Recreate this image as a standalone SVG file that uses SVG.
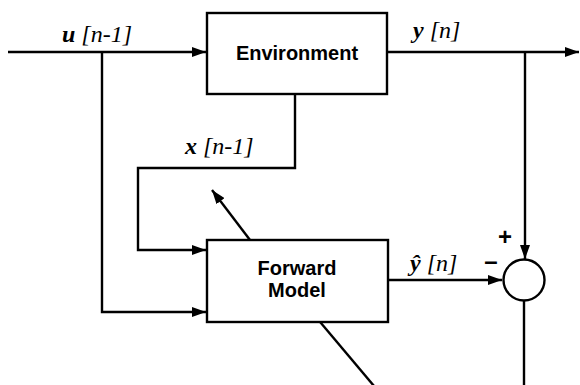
<svg xmlns="http://www.w3.org/2000/svg" width="580" height="385" viewBox="0 0 580 385">
<style>
.ln{fill:none;stroke:#000;stroke-width:2.4}
.box{fill:#fff;stroke:#000;stroke-width:2.4}
.lbl{font-family:"Liberation Serif",serif;font-style:italic;font-size:24px;fill:#000}
.b{font-weight:bold}
.nt{font-family:"Liberation Sans",Arial,sans-serif;font-weight:bold;font-size:20px;fill:#000;text-anchor:middle}
.sg{font-family:"Liberation Sans",Arial,sans-serif;font-weight:bold;font-size:24px;fill:#000;text-anchor:middle}
</style>
<defs>
<marker id="ah" markerWidth="14" markerHeight="10" refX="14" refY="5" orient="auto" markerUnits="userSpaceOnUse">
<path d="M0,0 L14,5 L0,10 Z" fill="#000"/>
</marker>
</defs>
<rect width="580" height="385" fill="#fff"/>
<g id="connectors">
<line class="ln" x1="8" y1="52" x2="206" y2="52" marker-end="url(#ah)"/>
<polyline class="ln" points="102,52 102,312 206,312" marker-end="url(#ah)"/>
<polyline class="ln" points="295,94 295,168 138,168 138,250 206,250" marker-end="url(#ah)"/>
<line class="ln" x1="387" y1="52" x2="579" y2="52" marker-end="url(#ah)"/>
<line class="ln" x1="525" y1="52" x2="525" y2="259" marker-end="url(#ah)"/>
<line class="ln" x1="388" y1="280" x2="502" y2="280" marker-end="url(#ah)"/>
<line class="ln" x1="524" y1="301" x2="524" y2="385"/>
<line class="ln" x1="250" y1="240" x2="212" y2="190" marker-end="url(#ah)"/>
<line class="ln" x1="310" y1="310" x2="374" y2="386"/>
</g>
<g id="environment">
<rect class="box" x="207" y="13" width="180" height="81"/>
<text class="nt" x="297" y="60">Environment</text>
</g>
<g id="forward-model">
<rect class="box" x="207" y="240" width="181" height="82"/>
<text class="nt" x="297" y="275">Forward</text>
<text class="nt" x="297" y="297">Model</text>
</g>
<g id="sum">
<circle class="box" cx="524" cy="280" r="20.5"/>
<text class="sg" x="505" y="245">+</text>
<text class="sg" x="491" y="269">–</text>
</g>
<g id="labels">
<text class="lbl" x="62" y="42"><tspan class="b">u</tspan> [n-1]</text>
<text class="lbl" x="413" y="38"><tspan class="b">y</tspan> [n]</text>
<text class="lbl" x="185" y="154"><tspan class="b">x</tspan> [n-1]</text>
<text class="lbl" x="410" y="271"><tspan class="b">ŷ</tspan> [n]</text>
</g>
</svg>
